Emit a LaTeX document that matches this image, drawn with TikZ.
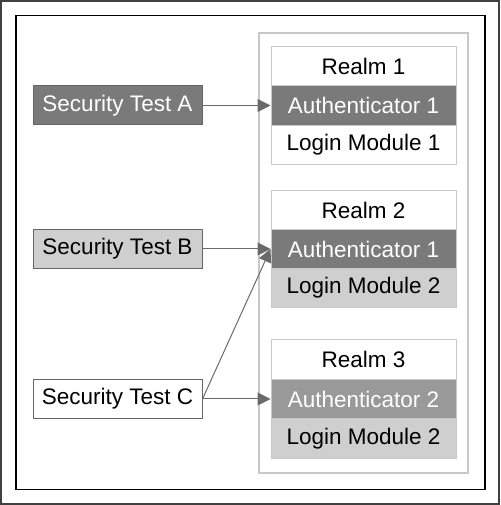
\documentclass[tikz,border=0pt]{standalone}
\usepackage{fontspec}
\setmainfont{Liberation Sans}
\usetikzlibrary{arrows.meta}
\definecolor{darkfill}{HTML}{7A7A7A}
\definecolor{midfill}{HTML}{999999}
\definecolor{lightfill}{HTML}{CFCFCF}
\definecolor{boxline}{HTML}{C8C8C8}
\definecolor{testline}{HTML}{666666}
\definecolor{arrowcol}{HTML}{6A6A6A}
\tikzset{
  testbox/.style={draw=testline, line width=1pt, minimum width=169pt, minimum height=39pt, inner sep=0pt, font=\fontsize{22.5}{24}\selectfont},
  cell/.style={draw=boxline, line width=1pt, minimum width=185pt, minimum height=39.5pt, inner sep=0pt, font=\fontsize{22.5}{24}\selectfont},
  link/.style={draw=arrowcol, line width=1pt, -{Triangle[length=13pt,width=13pt]}}
}
\begin{document}
\begin{tikzpicture}[x=1pt,y=1pt]
\useasboundingbox (0,0) rectangle (500,505);
\draw[draw=black!75, line width=2pt] (1,1) rectangle (499,504);
\draw[draw=black, line width=1.3pt] (16,15.5) rectangle (485,489.5);
\draw[draw=boxline, line width=1.2pt] (259,32) rectangle (468,472);
% realm 1
\node[cell, fill=white] (r1) at (363.5,438.5) {Realm 1};
\node[cell, fill=darkfill, text=white] (a1) at (363.5,399.5) {Authenticator 1};
\node[cell, fill=white] (l1) at (363.5,360) {Login Module 1};
% realm 2
\node[cell, fill=white] (r2) at (363.5,295) {Realm 2};
\node[cell, fill=darkfill, text=white] (a2) at (363.5,256) {Authenticator 1};
\node[cell, fill=lightfill] (l2) at (363.5,217) {Login Module 2};
% realm 3
\node[cell, fill=white] (r3) at (363.5,145.5) {Realm 3};
\node[cell, fill=midfill, text=white] (a3) at (363.5,106) {Authenticator 2};
\node[cell, fill=lightfill] (l3) at (363.5,66.5) {Login Module 2};
% tests
\node[testbox, fill=darkfill, text=white] (ta) at (117.5,399.5) {Security Test A};
\node[testbox, fill=lightfill] (tb) at (117.5,256) {Security Test B};
\node[testbox, fill=white] (tc) at (117.5,106) {Security Test C};
% arrows
\draw[link] (ta.east) -- (a1.west);
\draw[link] (tb.east) -- (a2.west);
\draw[link] (tc.east) -- (a2.west);
\draw[link] (tc.east) -- (a3.west);
\end{tikzpicture}
\end{document}
